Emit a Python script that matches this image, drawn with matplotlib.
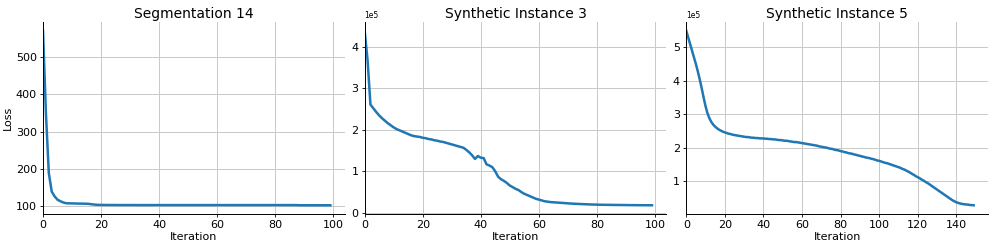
import numpy as np
import matplotlib
matplotlib.use("Agg")
import matplotlib.pyplot as plt

titles = ["Segmentation 14", "Synthetic Instance 3", "Synthetic Instance 5"]

seg14_loss = [
    572, 350, 188, 138, 125, 116, 112, 108.5, 106.5, 106.2,
    106, 105.8, 105.6, 105.5, 105.3, 105.1, 104.5, 103.5, 102.6, 102.1,
    101.9, 101.8, 101.8, 101.7, 101.7, 101.7, 101.6, 101.6, 101.6, 101.6,
    101.6, 101.6, 101.5, 101.5, 101.5, 101.5, 101.5, 101.5, 101.5, 101.5,
    101.5, 101.5, 101.5, 101.5, 101.5, 101.5, 101.5, 101.5, 101.5, 101.5,
    101.5, 101.5, 101.5, 101.5, 101.5, 101.5, 101.5, 101.5, 101.5, 101.5,
    101.5, 101.5, 101.5, 101.5, 101.5, 101.5, 101.5, 101.5, 101.5, 101.5,
    101.5, 101.5, 101.5, 101.5, 101.5, 101.5, 101.5, 101.5, 101.5, 101.5,
    101.5, 101.5, 101.5, 101.5, 101.5, 101.5, 101.5, 101.5, 101.2, 101.0,
    101.0, 101.0, 101.0, 101.0, 101.0, 101.0, 101.0, 101.0, 101.0, 101.0,
]

# units of 1e5
syn3_loss = [
    4.39, 3.69, 2.61, 2.52, 2.43, 2.35, 2.28, 2.22, 2.16, 2.11,
    2.06, 2.02, 1.99, 1.96, 1.93, 1.90, 1.87, 1.85, 1.84, 1.83,
    1.81, 1.80, 1.78, 1.77, 1.75, 1.74, 1.72, 1.71, 1.69, 1.67,
    1.65, 1.63, 1.61, 1.59, 1.57, 1.52, 1.46, 1.39, 1.30, 1.37,
    1.33, 1.32, 1.17, 1.14, 1.10, 1.00, 0.87, 0.81, 0.77, 0.72,
    0.66, 0.62, 0.58, 0.55, 0.50, 0.46, 0.43, 0.40, 0.37, 0.34,
    0.32, 0.30, 0.28, 0.27, 0.26, 0.255, 0.25, 0.245, 0.24, 0.235,
    0.23, 0.225, 0.22, 0.217, 0.214, 0.211, 0.208, 0.205, 0.202, 0.20,
    0.198, 0.196, 0.195, 0.194, 0.193, 0.192, 0.191, 0.19, 0.19, 0.189,
    0.188, 0.187, 0.186, 0.186, 0.185, 0.185, 0.184, 0.184, 0.183, 0.183,
]

# units of 1e5
syn5_loss = [
    5.50, 5.30, 5.10, 4.90, 4.70, 4.50, 4.28, 4.04, 3.78, 3.50,
    3.24, 3.03, 2.88, 2.77, 2.69, 2.63, 2.58, 2.54, 2.51, 2.48,
    2.46, 2.44, 2.42, 2.41, 2.39, 2.38, 2.37, 2.36, 2.35, 2.34,
    2.33, 2.32, 2.32, 2.31, 2.30, 2.30, 2.29, 2.29, 2.28, 2.28,
    2.28, 2.27, 2.27, 2.26, 2.26, 2.25, 2.25, 2.24, 2.23, 2.23,
    2.22, 2.21, 2.21, 2.20, 2.19, 2.18, 2.17, 2.17, 2.16, 2.15,
    2.14, 2.13, 2.12, 2.11, 2.10, 2.09, 2.08, 2.07, 2.06, 2.04,
    2.03, 2.02, 2.01, 2.00, 1.98, 1.97, 1.96, 1.94, 1.93, 1.92,
    1.90, 1.89, 1.87, 1.86, 1.84, 1.83, 1.82, 1.80, 1.79, 1.77,
    1.76, 1.74, 1.73, 1.71, 1.70, 1.69, 1.67, 1.66, 1.64, 1.62,
    1.61, 1.59, 1.57, 1.55, 1.54, 1.52, 1.50, 1.48, 1.46, 1.44,
    1.42, 1.40, 1.37, 1.35, 1.32, 1.29, 1.26, 1.22, 1.19, 1.15,
    1.12, 1.09, 1.05, 1.02, 0.98, 0.95, 0.91, 0.87, 0.83, 0.79,
    0.75, 0.71, 0.67, 0.63, 0.59, 0.55, 0.51, 0.47, 0.43, 0.40,
    0.37, 0.35, 0.335, 0.32, 0.31, 0.305, 0.30, 0.29, 0.285, 0.28,
]

series = [np.array(seg14_loss),
          np.array(syn3_loss) * 1e5,
          np.array(syn5_loss) * 1e5]

plt.rcParams.update({
    "font.family": "DejaVu Sans",
    "font.size": 8,
    "axes.linewidth": 0.7,
    "xtick.major.size": 2.5,
    "ytick.major.size": 2.5,
    "xtick.major.width": 0.6,
    "ytick.major.width": 0.6,
    "xtick.major.pad": 2,
    "ytick.major.pad": 2,
})

fig, axes = plt.subplots(1, 3, figsize=(9.96, 2.49), dpi=100)
fig.subplots_adjust(left=43 / 996, right=988 / 996, bottom=1 - 214 / 249,
                    top=1 - 22 / 249, wspace=0.066)

for i, (ax, y, title) in enumerate(zip(axes, series, titles)):
    x = np.arange(len(y))
    ax.plot(x, y, color="#1f77b4", lw=1.8)
    ax.set_xlim(0, (len(y) - 1) * 1.05)
    ax.grid(True, color="#c8c8c8", lw=0.7)
    ax.set_axisbelow(True)
    ax.spines["top"].set_visible(False)
    ax.spines["right"].set_visible(False)
    ax.set_title(title, fontsize=10, pad=3)
    ax.set_xlabel("Iteration", labelpad=1)
    if i > 0:
        ax.ticklabel_format(axis="y", style="sci", scilimits=(0, 0))
    ax.yaxis.get_offset_text().set_fontsize(5.5)

axes[0].set_ylabel("Loss", labelpad=2)

fig.savefig("out.png", dpi=100)
